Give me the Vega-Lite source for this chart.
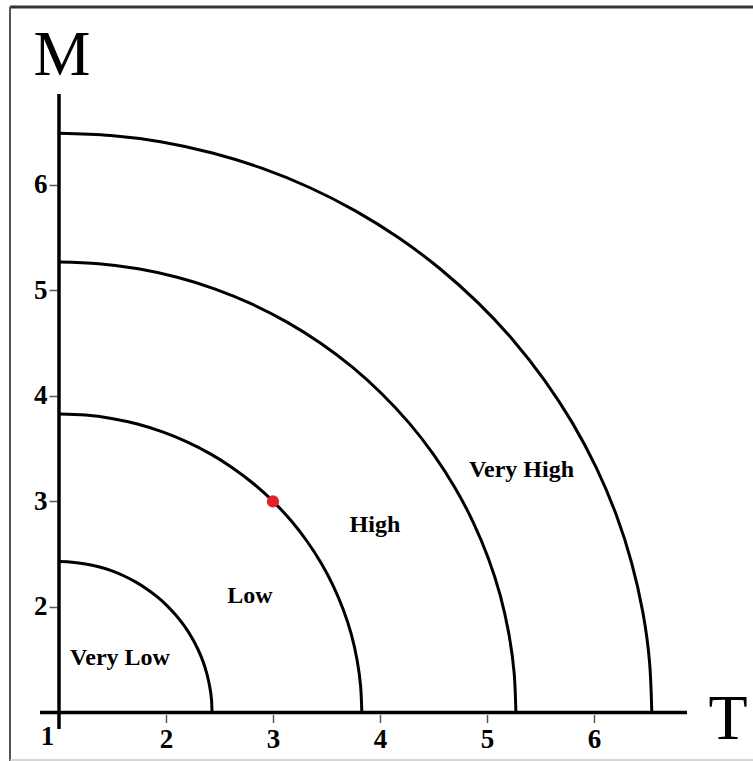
{
  "$schema": "https://vega.github.io/schema/vega-lite/v6.json",
  "width": 743,
  "height": 754,
  "autosize": "none",
  "padding": {"left": 10, "top": 7, "right": 0, "bottom": 0},
  "background": "white",
  "view": {"stroke": null},
  "datasets": {
    "arcs": [
      {"arc": "a1", "i": 0, "x": 2.430, "y": 1.000},
      {"arc": "a1", "i": 1, "x": 2.425, "y": 1.125},
      {"arc": "a1", "i": 2, "x": 2.408, "y": 1.248},
      {"arc": "a1", "i": 3, "x": 2.381, "y": 1.370},
      {"arc": "a1", "i": 4, "x": 2.344, "y": 1.489},
      {"arc": "a1", "i": 5, "x": 2.296, "y": 1.604},
      {"arc": "a1", "i": 6, "x": 2.238, "y": 1.715},
      {"arc": "a1", "i": 7, "x": 2.171, "y": 1.820},
      {"arc": "a1", "i": 8, "x": 2.095, "y": 1.919},
      {"arc": "a1", "i": 9, "x": 2.011, "y": 2.011},
      {"arc": "a1", "i": 10, "x": 1.919, "y": 2.095},
      {"arc": "a1", "i": 11, "x": 1.820, "y": 2.171},
      {"arc": "a1", "i": 12, "x": 1.715, "y": 2.238},
      {"arc": "a1", "i": 13, "x": 1.604, "y": 2.296},
      {"arc": "a1", "i": 14, "x": 1.489, "y": 2.344},
      {"arc": "a1", "i": 15, "x": 1.370, "y": 2.381},
      {"arc": "a1", "i": 16, "x": 1.248, "y": 2.408},
      {"arc": "a1", "i": 17, "x": 1.125, "y": 2.425},
      {"arc": "a1", "i": 18, "x": 1.000, "y": 2.430},
      {"arc": "a2", "i": 0, "x": 3.830, "y": 1.000},
      {"arc": "a2", "i": 1, "x": 3.819, "y": 1.247},
      {"arc": "a2", "i": 2, "x": 3.787, "y": 1.491},
      {"arc": "a2", "i": 3, "x": 3.734, "y": 1.733},
      {"arc": "a2", "i": 4, "x": 3.659, "y": 1.968},
      {"arc": "a2", "i": 5, "x": 3.565, "y": 2.196},
      {"arc": "a2", "i": 6, "x": 3.451, "y": 2.415},
      {"arc": "a2", "i": 7, "x": 3.318, "y": 2.623},
      {"arc": "a2", "i": 8, "x": 3.168, "y": 2.819},
      {"arc": "a2", "i": 9, "x": 3.001, "y": 3.001},
      {"arc": "a2", "i": 10, "x": 2.819, "y": 3.168},
      {"arc": "a2", "i": 11, "x": 2.623, "y": 3.318},
      {"arc": "a2", "i": 12, "x": 2.415, "y": 3.451},
      {"arc": "a2", "i": 13, "x": 2.196, "y": 3.565},
      {"arc": "a2", "i": 14, "x": 1.968, "y": 3.659},
      {"arc": "a2", "i": 15, "x": 1.733, "y": 3.734},
      {"arc": "a2", "i": 16, "x": 1.491, "y": 3.787},
      {"arc": "a2", "i": 17, "x": 1.247, "y": 3.819},
      {"arc": "a2", "i": 18, "x": 1.000, "y": 3.830},
      {"arc": "a3", "i": 0, "x": 5.270, "y": 1.000},
      {"arc": "a3", "i": 1, "x": 5.254, "y": 1.372},
      {"arc": "a3", "i": 2, "x": 5.205, "y": 1.741},
      {"arc": "a3", "i": 3, "x": 5.125, "y": 2.105},
      {"arc": "a3", "i": 4, "x": 5.013, "y": 2.460},
      {"arc": "a3", "i": 5, "x": 4.870, "y": 2.805},
      {"arc": "a3", "i": 6, "x": 4.698, "y": 3.135},
      {"arc": "a3", "i": 7, "x": 4.498, "y": 3.449},
      {"arc": "a3", "i": 8, "x": 4.271, "y": 3.745},
      {"arc": "a3", "i": 9, "x": 4.019, "y": 4.019},
      {"arc": "a3", "i": 10, "x": 3.745, "y": 4.271},
      {"arc": "a3", "i": 11, "x": 3.449, "y": 4.498},
      {"arc": "a3", "i": 12, "x": 3.135, "y": 4.698},
      {"arc": "a3", "i": 13, "x": 2.805, "y": 4.870},
      {"arc": "a3", "i": 14, "x": 2.460, "y": 5.013},
      {"arc": "a3", "i": 15, "x": 2.105, "y": 5.125},
      {"arc": "a3", "i": 16, "x": 1.741, "y": 5.205},
      {"arc": "a3", "i": 17, "x": 1.372, "y": 5.254},
      {"arc": "a3", "i": 18, "x": 1.000, "y": 5.270},
      {"arc": "a4", "i": 0, "x": 6.540, "y": 1.000},
      {"arc": "a4", "i": 1, "x": 6.519, "y": 1.479},
      {"arc": "a4", "i": 2, "x": 6.456, "y": 1.953},
      {"arc": "a4", "i": 3, "x": 6.351, "y": 2.421},
      {"arc": "a4", "i": 4, "x": 6.206, "y": 2.878},
      {"arc": "a4", "i": 5, "x": 6.021, "y": 3.320},
      {"arc": "a4", "i": 6, "x": 5.798, "y": 3.745},
      {"arc": "a4", "i": 7, "x": 5.538, "y": 4.149},
      {"arc": "a4", "i": 8, "x": 5.244, "y": 4.529},
      {"arc": "a4", "i": 9, "x": 4.917, "y": 4.882},
      {"arc": "a4", "i": 10, "x": 4.561, "y": 5.206},
      {"arc": "a4", "i": 11, "x": 4.178, "y": 5.497},
      {"arc": "a4", "i": 12, "x": 3.770, "y": 5.755},
      {"arc": "a4", "i": 13, "x": 3.341, "y": 5.976},
      {"arc": "a4", "i": 14, "x": 2.895, "y": 6.159},
      {"arc": "a4", "i": 15, "x": 2.434, "y": 6.303},
      {"arc": "a4", "i": 16, "x": 1.962, "y": 6.407},
      {"arc": "a4", "i": 17, "x": 1.483, "y": 6.469},
      {"arc": "a4", "i": 18, "x": 1.000, "y": 6.490}
    ],
    "frameTop": [{"x": 0.5421, "x2": 7.486, "y": 7.687, "y2": 7.687}],
    "frameLeft": [{"x": 0.5421, "x2": 0.5421, "y": 0.540, "y2": 7.687}],
    "frameBottom": [{"x": 0.5421, "x2": 7.486, "y": 0.55, "y2": 0.55}],
    "axislines": [
      {"x": 0.8224, "y": 1.0, "x2": 6.869, "y2": 1.0},
      {"x": 1.0, "y": 0.8436, "x2": 1.0, "y2": 6.863}
    ],
    "regions": [
      {"label": "Very Low", "x": 1.570, "y": 1.450},
      {"label": "Low", "x": 2.785, "y": 2.038},
      {"label": "High", "x": 3.953, "y": 2.711},
      {"label": "Very High", "x": 5.322, "y": 3.232}
    ],
    "letters": [
      {"label": "M", "x": 1.028, "y": 7.043},
      {"label": "T", "x": 7.252, "y": 0.749}
    ],
    "origin": [
      {"label": "1", "x": 0.8925, "y": 0.692}
    ],
    "points": [
      {"x": 3, "y": 3}
    ]
  },
  "encoding": {
    "x": {
      "field": "x", "type": "quantitative",
      "scale": {"domain": [0.5421, 7.486], "nice": false, "zero": false},
      "axis": {
        "title": null, "orient": "bottom", "offset": -46.5, "values": [2, 3, 4, 5, 6],
        "domain": false, "grid": false, "ticks": true, "tickSize": 8, "tickColor": "#555555", "tickWidth": 1.5,
        "labelFont": "Liberation Serif", "labelFontWeight": "bold", "labelFontSize": 27, "labelColor": "black",
        "labelPadding": 4
      }
    },
    "y": {
      "field": "y", "type": "quantitative",
      "scale": {"domain": [0.540, 7.687], "nice": false, "zero": false},
      "axis": {
        "title": null, "orient": "left", "offset": -47, "values": [2, 3, 4, 5, 6],
        "domain": false, "grid": false, "ticks": true, "tickSize": 8, "tickColor": "#555555", "tickWidth": 1.5,
        "labelFont": "Liberation Serif", "labelFontWeight": "bold", "labelFontSize": 27, "labelColor": "black",
        "labelPadding": 2
      }
    }
  },
  "layer": [
    {
      "data": {"name": "frameTop"},
      "mark": {"type": "rule", "stroke": "#333333", "strokeWidth": 3},
      "encoding": {"x2": {"field": "x2"}, "y2": {"field": "y2"}}
    },
    {
      "data": {"name": "frameLeft"},
      "mark": {"type": "rule", "stroke": "#555555", "strokeWidth": 2},
      "encoding": {"x2": {"field": "x2"}, "y2": {"field": "y2"}}
    },
    {
      "data": {"name": "frameBottom"},
      "mark": {"type": "rule", "stroke": "#c8c8c8", "strokeWidth": 1.5},
      "encoding": {"x2": {"field": "x2"}, "y2": {"field": "y2"}}
    },
    {
      "data": {"name": "arcs"},
      "mark": {"type": "line", "interpolate": "natural", "stroke": "black", "strokeWidth": 3},
      "encoding": {
        "detail": {"field": "arc", "type": "nominal"},
        "order": {"field": "i", "type": "quantitative"}
      }
    },
    {
      "data": {"name": "axislines"},
      "mark": {"type": "rule", "stroke": "black", "strokeWidth": 3.5},
      "encoding": {"x2": {"field": "x2"}, "y2": {"field": "y2"}}
    },
    {
      "data": {"name": "regions"},
      "mark": {"type": "text", "font": "Liberation Serif", "fontWeight": "bold", "fontSize": 24, "color": "black", "align": "center", "baseline": "alphabetic"},
      "encoding": {"text": {"field": "label"}}
    },
    {
      "data": {"name": "letters"},
      "mark": {"type": "text", "font": "Liberation Serif", "fontSize": 64, "color": "black", "align": "center", "baseline": "alphabetic"},
      "encoding": {"text": {"field": "label"}}
    },
    {
      "data": {"name": "origin"},
      "mark": {"type": "text", "font": "Liberation Serif", "fontWeight": "bold", "fontSize": 27, "color": "black", "align": "center", "baseline": "alphabetic"},
      "encoding": {"text": {"field": "label"}}
    },
    {
      "data": {"name": "points"},
      "mark": {"type": "point", "filled": true, "shape": "circle", "size": 150, "color": "#e3202a", "opacity": 1}
    }
  ]
}
